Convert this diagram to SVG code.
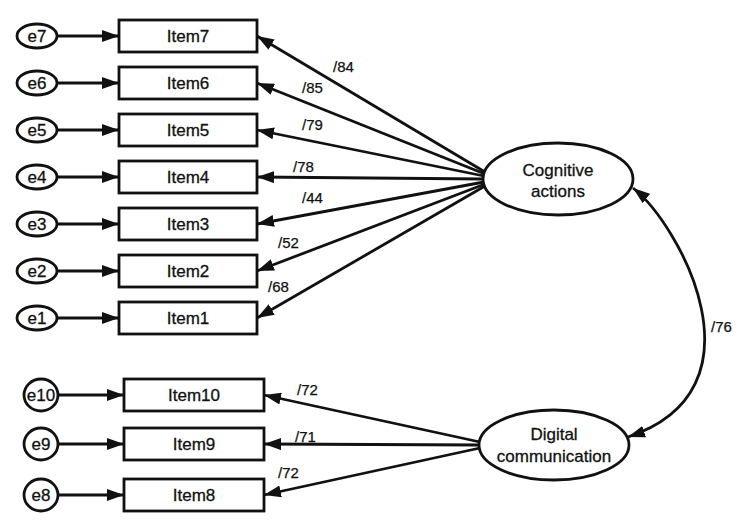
<svg xmlns="http://www.w3.org/2000/svg" width="744" height="529" viewBox="0 0 744 529">
<defs>
<marker id="ah" markerUnits="userSpaceOnUse" markerWidth="18" markerHeight="12" refX="17" refY="6" orient="auto-start-reverse">
<path d="M0,0 L17,6 L0,12 z" fill="#111"/>
</marker>
<style>
.box{fill:#fff;stroke:#111;stroke-width:2.8}
.t{font-family:"Liberation Sans",Arial,sans-serif;font-size:17px;fill:#111;text-anchor:middle;stroke:#111;stroke-width:0.3}
.lbl{font-family:"Liberation Sans",Arial,sans-serif;font-size:15px;fill:#111;stroke:#111;stroke-width:0.25}
.ln{stroke:#111;stroke-width:2.8;fill:none;marker-end:url(#ah)}
</style>
</defs>
<rect width="744" height="529" fill="#fff"/>
<g id="connectors">
<line class="ln" x1="57" y1="36" x2="119" y2="36"/>
<line class="ln" x1="57" y1="83" x2="119" y2="83"/>
<line class="ln" x1="57" y1="130" x2="119" y2="130"/>
<line class="ln" x1="57" y1="177" x2="119" y2="177"/>
<line class="ln" x1="57" y1="224" x2="119" y2="224"/>
<line class="ln" x1="57" y1="271" x2="119" y2="271"/>
<line class="ln" x1="57" y1="318" x2="119" y2="318"/>
<line class="ln" x1="57" y1="395" x2="124" y2="395"/>
<line class="ln" x1="58" y1="444" x2="124" y2="444"/>
<line class="ln" x1="58" y1="495" x2="124" y2="495"/>
<line class="ln" x1="485" y1="172" x2="257" y2="36"/>
<line class="ln" x1="485" y1="174" x2="257" y2="83"/>
<line class="ln" x1="484" y1="176" x2="257" y2="130"/>
<line class="ln" x1="484" y1="179" x2="257" y2="177"/>
<line class="ln" x1="484" y1="182" x2="257" y2="224"/>
<line class="ln" x1="485" y1="184" x2="257" y2="271"/>
<line class="ln" x1="485" y1="186" x2="257" y2="318"/>
<line class="ln" x1="480" y1="442" x2="264" y2="395"/>
<line class="ln" x1="479" y1="445" x2="264" y2="444"/>
<line class="ln" x1="480" y1="448" x2="264" y2="495"/>
<path class="ln" d="M633,188 C680,225 770,390 628,437" style="marker-start:url(#ah)"/>
<text class="lbl" x="333" y="72">/84</text>
<text class="lbl" x="302" y="93">/85</text>
<text class="lbl" x="302" y="130">/79</text>
<text class="lbl" x="293" y="172">/78</text>
<text class="lbl" x="302" y="203">/44</text>
<text class="lbl" x="278" y="248">/52</text>
<text class="lbl" x="268" y="292">/68</text>
<text class="lbl" x="297" y="395">/72</text>
<text class="lbl" x="295" y="442">/71</text>
<text class="lbl" x="278" y="478">/72</text>
<text class="lbl" x="711" y="332">/76</text>
</g>
<g id="e7"><ellipse class="box" cx="37" cy="36" rx="20" ry="12"/><text class="t" x="37" y="42">e7</text></g>
<g id="e6"><ellipse class="box" cx="37" cy="83" rx="20" ry="12"/><text class="t" x="37" y="89">e6</text></g>
<g id="e5"><ellipse class="box" cx="37" cy="130" rx="20" ry="12"/><text class="t" x="37" y="136">e5</text></g>
<g id="e4"><ellipse class="box" cx="37" cy="177" rx="20" ry="12"/><text class="t" x="37" y="183">e4</text></g>
<g id="e3"><ellipse class="box" cx="37" cy="224" rx="20" ry="12"/><text class="t" x="37" y="230">e3</text></g>
<g id="e2"><ellipse class="box" cx="37" cy="271" rx="20" ry="12"/><text class="t" x="37" y="277">e2</text></g>
<g id="e1"><ellipse class="box" cx="37" cy="318" rx="20" ry="12"/><text class="t" x="37" y="324">e1</text></g>
<g id="e10"><ellipse class="box" cx="41" cy="395" rx="17" ry="16"/><text class="t" x="41" y="401">e10</text></g>
<g id="e9"><ellipse class="box" cx="41" cy="444" rx="17" ry="16"/><text class="t" x="41" y="450">e9</text></g>
<g id="e8"><ellipse class="box" cx="41" cy="495" rx="17" ry="16"/><text class="t" x="41" y="501">e8</text></g>
<g id="item7"><rect class="box" x="119" y="20" width="138" height="32"/><text class="t" x="188" y="42">Item7</text></g>
<g id="item6"><rect class="box" x="119" y="67" width="138" height="32"/><text class="t" x="188" y="89">Item6</text></g>
<g id="item5"><rect class="box" x="119" y="114" width="138" height="32"/><text class="t" x="188" y="136">Item5</text></g>
<g id="item4"><rect class="box" x="119" y="161" width="138" height="32"/><text class="t" x="188" y="183">Item4</text></g>
<g id="item3"><rect class="box" x="119" y="208" width="138" height="32"/><text class="t" x="188" y="230">Item3</text></g>
<g id="item2"><rect class="box" x="119" y="255" width="138" height="32"/><text class="t" x="188" y="277">Item2</text></g>
<g id="item1"><rect class="box" x="119" y="302" width="138" height="32"/><text class="t" x="188" y="324">Item1</text></g>
<g id="item10"><rect class="box" x="124" y="379" width="140" height="32"/><text class="t" x="194" y="401">Item10</text></g>
<g id="item9"><rect class="box" x="124" y="428" width="140" height="32"/><text class="t" x="194" y="450">Item9</text></g>
<g id="item8"><rect class="box" x="124" y="479" width="140" height="32"/><text class="t" x="194" y="501">Item8</text></g>
<g id="cognitive"><ellipse class="box" cx="558" cy="179" rx="75" ry="36"/><text class="t" x="558" y="176">Cognitive</text><text class="t" x="558" y="197">actions</text></g>
<g id="digital"><ellipse class="box" cx="554" cy="445" rx="75" ry="35"/><text class="t" x="554" y="440">Digital</text><text class="t" x="554" y="462">communication</text></g>
</svg>
